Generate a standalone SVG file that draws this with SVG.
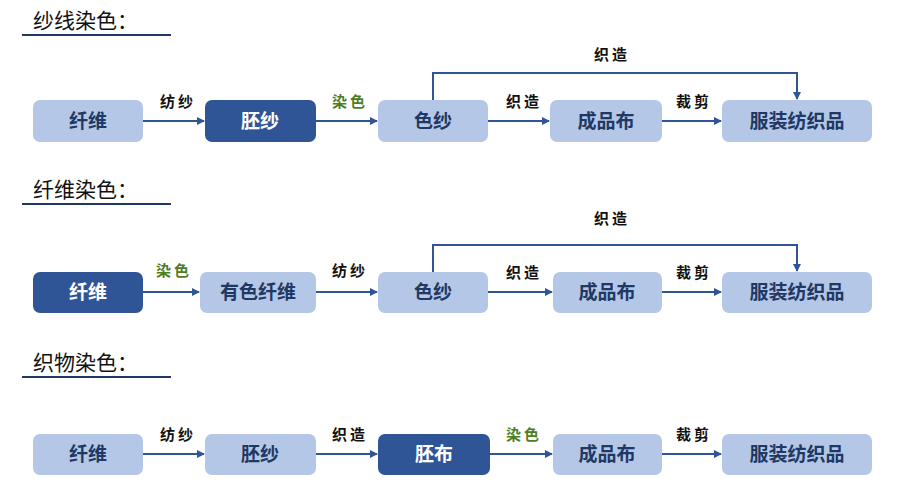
<svg xmlns="http://www.w3.org/2000/svg" width="897" height="494" viewBox="0 0 897 494">
<style>
.l{fill:#b4c7e7}.d{fill:#2f5597}
.t{font-family:"Noto Sans CJK SC",sans-serif;font-size:19px;font-weight:bold;text-anchor:middle;fill:#1f3864}
.w{fill:#fff}
.h{font-family:"Noto Sans CJK SC",sans-serif;font-size:21px;fill:#111}
.a{font-family:"Noto Sans CJK SC",sans-serif;font-size:15px;font-weight:bold;text-anchor:middle;fill:#111;letter-spacing:3px}
.g{fill:#4e7d24}
.c{stroke:#2f5597;stroke-width:2;fill:none;marker-end:url(#m)}
.u{stroke:#1f3864;stroke-width:2}
</style>
<defs><marker id="m" markerWidth="8" markerHeight="8" refX="7" refY="4" orient="auto" markerUnits="userSpaceOnUse"><path d="M0,0L8,4L0,8z" fill="#2f5597"/></marker></defs>
<rect width="897" height="494" fill="#fff"/>
<g id="titles">
<text class="h" x="33" y="28">纱线染色：</text><line class="u" x1="22" y1="35" x2="171" y2="35"/>
<text class="h" x="33" y="197">纤维染色：</text><line class="u" x1="22" y1="204" x2="171" y2="204"/>
<text class="h" x="33" y="370">织物染色：</text><line class="u" x1="22" y1="377" x2="171" y2="377"/>
</g>
<g id="r1n1"><rect class="l" x="33" y="100" width="110" height="42" rx="7"/><text class="t" x="88" y="128">纤维</text></g>
<g id="r1n2"><rect class="d" x="205" y="100" width="111" height="42" rx="7"/><text class="t w" x="260" y="128">胚纱</text></g>
<g id="r1n3"><rect class="l" x="378" y="100" width="110" height="42" rx="7"/><text class="t" x="433" y="128">色纱</text></g>
<g id="r1n4"><rect class="l" x="550" y="100" width="112" height="42" rx="7"/><text class="t" x="606" y="128">成品布</text></g>
<g id="r1n5"><rect class="l" x="722" y="100" width="150" height="42" rx="7"/><text class="t" x="797" y="128">服装纺织品</text></g>
<g id="r2n1"><rect class="d" x="33" y="272" width="110" height="41" rx="7"/><text class="t w" x="88" y="299">纤维</text></g>
<g id="r2n2"><rect class="l" x="200" y="272" width="116" height="41" rx="7"/><text class="t" x="258" y="299">有色纤维</text></g>
<g id="r2n3"><rect class="l" x="378" y="272" width="110" height="41" rx="7"/><text class="t" x="433" y="299">色纱</text></g>
<g id="r2n4"><rect class="l" x="553" y="272" width="109" height="41" rx="7"/><text class="t" x="607" y="299">成品布</text></g>
<g id="r2n5"><rect class="l" x="722" y="272" width="150" height="41" rx="7"/><text class="t" x="797" y="299">服装纺织品</text></g>
<g id="r3n1"><rect class="l" x="33" y="434" width="110" height="41" rx="7"/><text class="t" x="88" y="461">纤维</text></g>
<g id="r3n2"><rect class="l" x="205" y="434" width="111" height="41" rx="7"/><text class="t" x="260" y="461">胚纱</text></g>
<g id="r3n3"><rect class="d" x="378" y="434" width="112" height="41" rx="7"/><text class="t w" x="434" y="461">胚布</text></g>
<g id="r3n4"><rect class="l" x="553" y="434" width="109" height="41" rx="7"/><text class="t" x="607" y="461">成品布</text></g>
<g id="r3n5"><rect class="l" x="722" y="434" width="150" height="41" rx="7"/><text class="t" x="797" y="461">服装纺织品</text></g>
<g id="connectors">
<path class="c" d="M143,121H204"/><path class="c" d="M316,121H377"/><path class="c" d="M488,121H549"/><path class="c" d="M662,121H721"/>
<path class="c" d="M433,100V73H797V99"/>
<path class="c" d="M143,292H199"/><path class="c" d="M316,292H377"/><path class="c" d="M488,292H552"/><path class="c" d="M662,292H721"/>
<path class="c" d="M433,272V245H797V271"/>
<path class="c" d="M143,454H204"/><path class="c" d="M316,454H377"/><path class="c" d="M490,454H552"/><path class="c" d="M662,454H721"/>
<text class="a" x="178" y="107">纺纱</text><text class="a g" x="350" y="107">染色</text><text class="a" x="524" y="107">织造</text><text class="a" x="694" y="107">裁剪</text>
<text class="a" x="612" y="60">织造</text>
<text class="a g" x="174" y="276">染色</text><text class="a" x="350" y="276">纺纱</text><text class="a" x="524" y="278">织造</text><text class="a" x="694" y="278">裁剪</text>
<text class="a" x="612" y="224">织造</text>
<text class="a" x="178" y="440">纺纱</text><text class="a" x="350" y="440">织造</text><text class="a g" x="524" y="440">染色</text><text class="a" x="694" y="440">裁剪</text>
</g>
</svg>
